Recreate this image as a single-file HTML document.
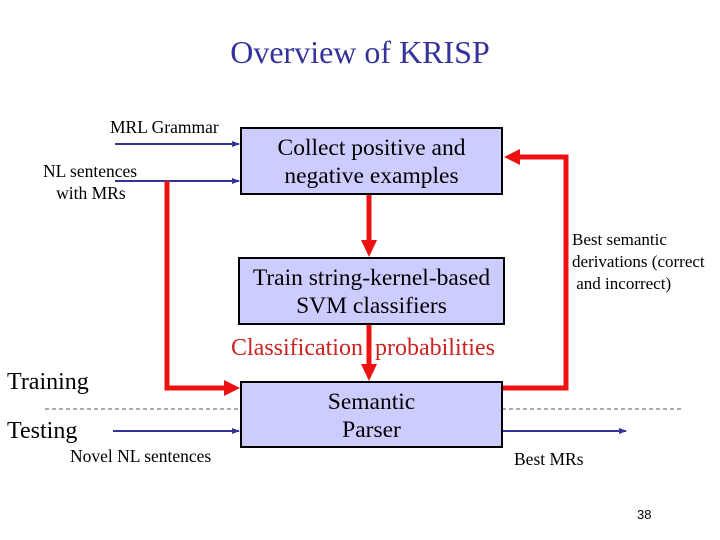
<!DOCTYPE html>
<html><head><style>
body{margin:0;width:720px;height:540px;background:#fff;overflow:hidden;position:relative;font-family:"Liberation Serif",serif}
.t{position:absolute;white-space:nowrap;color:#000}
.b{position:absolute;background:#ccccff;border:2.5px solid #000;box-sizing:border-box;text-align:center;font-size:23.5px;line-height:28px}
</style></head><body>
<div class="t" style="left:0;width:720px;text-align:center;top:34px;font-size:32px;color:#333399">Overview of KRISP</div>
<svg width="720" height="540" style="position:absolute;left:0;top:0">
<defs>
<marker id="bl" markerWidth="8" markerHeight="8" refX="7" refY="4" orient="auto" markerUnits="userSpaceOnUse"><path d="M0,1 L8,4 L0,7z" fill="#333399"/></marker>
</defs>
<g stroke="#333399" stroke-width="2" fill="none" marker-end="url(#bl)">
<line x1="115" y1="144" x2="239" y2="144"/>
<line x1="115" y1="181" x2="239" y2="181"/>
<line x1="113" y1="431" x2="239" y2="431"/>
<line x1="502" y1="431" x2="626" y2="431"/>
</g>
<g stroke="#555" stroke-width="1" stroke-dasharray="4,3">
<line x1="45" y1="409" x2="240" y2="409"/>
<line x1="502" y1="409" x2="684" y2="409"/>
</g>
<g stroke="#ee1111" stroke-width="5" fill="none" stroke-linejoin="miter">
<polyline points="167,181 167,388 226,388"/>
<line x1="369" y1="194" x2="369" y2="242"/>
<line x1="369" y1="324" x2="369" y2="366"/>
<polyline points="502,388 566,388 566,157 518,157"/>
</g>
<g fill="#ee1111">
<path d="M224,380 L240,388 L224,396z"/>
<path d="M361,240 L369,257 L377,240z"/>
<path d="M361,364 L369,381 L377,364z"/>
<path d="M520,149 L504,157 L520,165z"/>
</g>
</svg>
<div class="b" style="left:240px;top:127px;width:263px;height:68px;padding-top:5px">Collect positive and<br>negative examples</div>
<div class="b" style="left:238px;top:257px;width:267px;height:68px;padding-top:5px">Train string-kernel-based<br>SVM classifiers</div>
<div class="b" style="left:240px;top:381px;width:263px;height:67px;padding-top:5px">Semantic<br>Parser</div>
<div class="t" style="left:231px;top:335px;font-size:24px;color:#cc2222">Classification&nbsp;&nbsp;probabilities</div>
<div class="t" style="left:110px;top:117px;font-size:17.5px">MRL Grammar</div>
<div class="t" style="left:43px;top:160px;font-size:17.5px;line-height:22px">NL sentences<br>&nbsp;&nbsp;&nbsp;with MRs</div>
<div class="t" style="left:572px;top:229px;font-size:17px;line-height:22px">Best semantic<br>derivations (correct<br>&nbsp;and incorrect)</div>
<div class="t" style="left:7px;top:369px;font-size:24px">Training</div>
<div class="t" style="left:7px;top:418px;font-size:24px">Testing</div>
<div class="t" style="left:70px;top:446px;font-size:17.5px">Novel NL sentences</div>
<div class="t" style="left:514px;top:449px;font-size:17.5px">Best MRs</div>
<div class="t" style="left:637px;top:507px;font-size:13px;font-family:'Liberation Sans',sans-serif">38</div>
</body></html>
